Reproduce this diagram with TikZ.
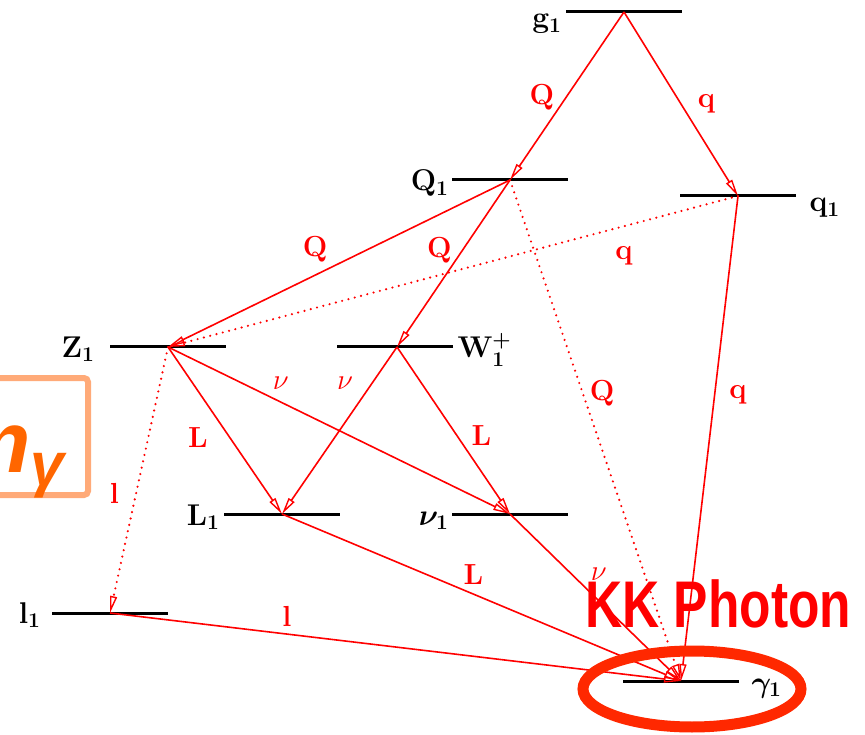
\RequirePackage{fix-cm}
\documentclass[tikz,border=0pt]{standalone}
\usepackage{fontspec}
\newfontfamily\kksans{Liberation Sans}
\usetikzlibrary{arrows.meta}

\definecolor{kkred}{RGB}{255,0,0}
\definecolor{ringred}{RGB}{255,40,0}
\definecolor{mgorange}{RGB}{255,102,0}
\definecolor{boxorange}{RGB}{255,170,120}

\begin{document}
\begin{tikzpicture}[x=1pt, y=-1pt,
    level/.style={line width=3pt, black},
    stlab/.style={inner sep=0pt, font=\fontsize{30}{32}\selectfont\bfseries\boldmath},
    decay/.style={kkred, line width=1.6pt, -{Triangle[open, length=17pt, width=7pt, line width=1.4pt]}},
    virt/.style={decay, line width=2.4pt, dash pattern=on 0pt off 6.5pt, line cap=round},
    lab/.style={kkred, inner sep=0pt, font=\fontsize{29}{30}\selectfont\bfseries}]

        \useasboundingbox (0,0) rectangle (865,735);
        \clip (0,0) rectangle (865,735);

        % KK hladiny
        \coordinate (g1) at (624,12);
        \coordinate (Q1) at (510,180);
        \coordinate (q1) at (738,196);
        \coordinate (Z1) at (168,347);
        \coordinate (W1) at (397,347);
        \coordinate (L1) at (282,514);
        \coordinate (nu1) at (510,514);
        \coordinate (l1) at (110,613);
        \coordinate (gam1) at (681,681);

        \draw[level] (g1) ++(-58,0) node[stlab, anchor=base east, xshift=-3pt, yshift=-16pt] {g$_1$} -- ++(116,0);
        \draw[level] (Q1) ++(-58,0) node[stlab, anchor=base east, xshift=-2pt, yshift=-11pt] {Q$_1$} -- ++(116,0);
        \draw[level] (q1) ++(58,0) node[stlab, anchor=base west, xshift=12pt, yshift=-16pt] {q$_1$} -- ++(-116,0);
        \draw[level] (Z1) ++(-58,0) node[stlab, anchor=base east, xshift=-14pt, yshift=-10pt] {Z$_1$} -- ++(116,0);
        \draw[level] (W1) ++(56,0) node[stlab, anchor=base west, xshift=3pt, yshift=-10pt] {W$^+_1$} -- ++(-116,0);
        \draw[level] (L1) ++(-58,0) node[stlab, anchor=base east, xshift=-3pt, yshift=-11pt] {L$_1$} -- ++(116,0);
        \draw[level] (nu1) ++(-58,0) node[stlab, anchor=base east, xshift=-2pt, yshift=-11pt] {$\nu_1$} -- ++(116,0);
        \draw[level] (l1) ++(-58,0) node[stlab, anchor=base east, xshift=-10pt, yshift=-10pt] {l$_1$} -- ++(116,0);
        \draw[level] (gam1) ++(58,0) node[stlab, anchor=base west, xshift=11pt, yshift=-11pt] {$\gamma_1$} -- ++(-116,0);

        % rozpady
        \draw[decay] (g1) -- node[lab, pos=0.51, left=11pt] {Q} (Q1);
        \draw[decay] (g1) -- node[lab, pos=0.5, right=16pt] {q} (q1);
        \draw[decay] (Q1) -- node[lab, pos=0.57, above=12pt] {Q} (Z1);
        \draw[virt] (q1) -- node[lab, pos=0.2, below=19pt] {q} (Z1);
        \draw[decay] (Q1) -- node[lab, pos=0.42, left=10pt] {Q} (W1);
        \draw[virt] (Q1) -- node[lab, pos=0.425, right=6pt] {Q} (gam1);
        \draw[decay] (q1) -- node[lab, pos=0.41, right=14pt] {q} (gam1);
        \draw[decay] (Z1) -- node[lab, pos=0.54, left=21pt] {L} (L1);
        \draw[decay] (Z1) -- node[lab, pos=0.33, above=12pt] {$\nu$} (nu1);
        \draw[virt] (Z1) -- node[lab, pos=0.55, left=16pt] {l} (l1);
        \draw[decay] (W1) -- node[lab, pos=0.22, left=18pt] {$\nu$} (L1);
        \draw[decay] (W1) -- node[lab, pos=0.53, right=14pt] {L} (nu1);
        \draw[decay] (L1) -- node[lab, pos=0.48, above=9pt] {L} (gam1);
        \draw[decay] (nu1) -- node[lab, pos=0.52, above=20pt] {$\nu$} (gam1);
        \draw[decay] (l1) -- node[lab, pos=0.31, above=7pt] {l} (gam1);

        % popisky navrch
        \draw[boxorange, line width=6pt, rounded corners=4pt] (-20,378) rectangle (88,495);
        \node[font=\kksans\bfseries\itshape\fontsize{87}{90}\selectfont, text=mgorange, anchor=base west, inner sep=0pt] (mgam) at (-47,472) {m\textsubscript{γ}};

        \draw[ringred, line width=11pt] (692,689) ellipse [x radius=109, y radius=38];
        \node[font=\kksans\bfseries\fontsize{66}{70}\selectfont, text=kkred, anchor=base west, inner sep=0pt] (kk) at (585,627) {\scalebox{0.78}[1]{KK Photon}};

    \end{tikzpicture}
\end{document}
